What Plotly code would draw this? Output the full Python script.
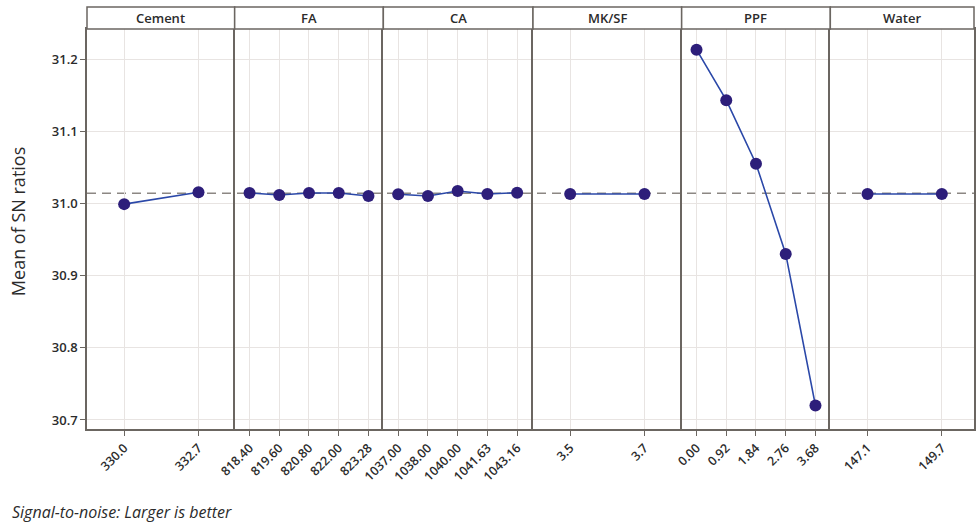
import plotly.graph_objects as go
from plotly.subplots import make_subplots

# ---- data ----
factors = ["Cement", "FA", "CA", "MK/SF", "PPF", "Water"]
cement_levels = ["330.0", "332.7"]
cement_sn = [30.999, 31.0155]
fa_levels = ["818.40", "819.60", "820.80", "822.00", "823.28"]
fa_sn = [31.0144, 31.0116, 31.0144, 31.0144, 31.0102]
ca_levels = ["1037.00", "1038.00", "1040.00", "1041.63", "1043.16"]
ca_sn = [31.0126, 31.0102, 31.0172, 31.0130, 31.0148]
mksf_levels = ["3.5", "3.7"]
mksf_sn = [31.013, 31.013]
ppf_levels = ["0.00", "0.92", "1.84", "2.76", "3.68"]
ppf_sn = [31.213, 31.143, 31.055, 30.930, 30.720]
water_levels = ["147.1", "149.7"]
water_sn = [31.013, 31.013]
overall_mean = 31.014

levels = [cement_levels, fa_levels, ca_levels, mksf_levels, ppf_levels, water_levels]
values = [cement_sn, fa_sn, ca_sn, mksf_sn, ppf_sn, water_sn]

# ---- layout geometry (px) ----
W, H = 976, 524
ml, mr, mt, mb = 87, 0, 29, 95
pw = W - ml - mr
ph = H - mt - mb
edges_px = [0, 148, 297, 447, 596, 745, 889]
panel_px = 149

border = "#6b6661"
grid = "#e8e4e2"
txt = "#2b2b2b"
font_fam = "Open Sans, Noto Sans, sans-serif"

fig = make_subplots(rows=1, cols=6, shared_yaxes=True, horizontal_spacing=0)

for i, (lv, vals) in enumerate(zip(levels, values)):
    idx = list(range(len(lv)))
    fig.add_trace(go.Scatter(
        x=idx, y=vals, mode="lines+markers",
        line=dict(color="#2b48a8", width=1.6),
        marker=dict(color="#2d1e7a", size=12, symbol="circle"),
        showlegend=False, hoverinfo="skip"), row=1, col=i + 1)
    n = len(lv)
    unit = panel_px / n
    width_px = edges_px[i + 1] - edges_px[i]
    xr = [-0.5, -0.5 + width_px / unit]
    axname = "xaxis" if i == 0 else f"xaxis{i+1}"
    fig.layout[axname].update(
        domain=[edges_px[i] / pw, edges_px[i + 1] / pw],
        range=xr, tickmode="array", tickvals=idx, ticktext=lv,
        tickangle=-45, showgrid=True, gridcolor=grid, gridwidth=1,
        showline=True, linecolor=border, linewidth=1.5, mirror=True,
        ticks="outside", ticklen=5, tickcolor=border, zeroline=False,
        tickfont=dict(size=12.5, color=txt, family=font_fam, weight=600))
    yname = "yaxis" if i == 0 else f"yaxis{i+1}"
    fig.layout[yname].update(
        range=[30.6875, 31.2416], showgrid=True, gridcolor=grid, gridwidth=1,
        showline=True, linecolor=border, linewidth=1.5,
        mirror=(i == len(levels) - 1), zeroline=False)

fig.layout.yaxis.update(
    tickmode="array", tickvals=[30.7, 30.8, 30.9, 31.0, 31.1, 31.2],
    ticktext=["30.7", "30.8", "30.9", "31.0", "31.1", "31.2"],
    ticks="outside", ticklen=5, tickcolor=border,
    tickfont=dict(size=13, color=txt, family=font_fam, weight=600))

shapes = []
annotations = []
# dashed overall mean line
shapes.append(dict(type="line", xref="paper", yref="y", x0=0, x1=1,
                   y0=overall_mean, y1=overall_mean, layer="between",
                   line=dict(color="#8c8783", width=1.5, dash="9px,6px")))
# header strip
top = 1 + 22 / ph
for i, name in enumerate(factors):
    x0 = edges_px[i] / pw
    x1 = edges_px[i + 1] / pw
    shapes.append(dict(type="rect", xref="paper", yref="paper",
                       x0=x0, x1=x1, y0=1, y1=top,
                       line=dict(color=border, width=1.5), fillcolor="white"))
    annotations.append(dict(text=name, xref="paper", yref="paper",
                            x=(x0 + x1) / 2, y=1 + 11 / ph, showarrow=False,
                            font=dict(size=13, color=txt, family=font_fam, weight=600),
                            xanchor="center", yanchor="middle"))

annotations.append(dict(text="Mean of SN ratios", xref="paper", yref="paper",
                        x=(18 - ml) / pw, y=(429 - 222) / ph,
                        textangle=-90, showarrow=False, xanchor="center",
                        yanchor="middle",
                        font=dict(size=18, color=txt, family=font_fam)))
annotations.append(dict(text="<i>Signal-to-noise: Larger is better</i>",
                        xref="paper", yref="paper",
                        x=(10 - ml) / pw, y=(429 - 512) / ph,
                        xanchor="left", yanchor="middle", showarrow=False,
                        font=dict(size=16, color=txt, family=font_fam)))

fig.update_layout(
    width=W, height=H, margin=dict(l=ml, r=mr, t=mt, b=mb),
    plot_bgcolor="white", paper_bgcolor="white",
    shapes=shapes, annotations=annotations, showlegend=False)

fig.write_html("out.html")
